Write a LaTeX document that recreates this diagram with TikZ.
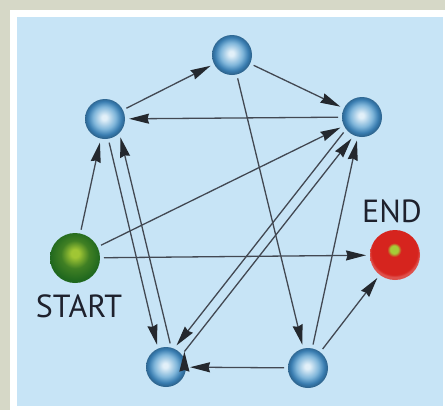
\documentclass[tikz,border=0pt]{standalone}
\usepackage{fontspec}
\setsansfont{PT Sans}
\usetikzlibrary{arrows.meta}

\definecolor{outerbg}{RGB}{214,216,199}
\definecolor{panel}{RGB}{199,228,246}
\definecolor{linkgray}{RGB}{66,72,82}
\definecolor{tipgray}{RGB}{36,40,46}
\definecolor{labeltext}{RGB}{30,33,45}
\definecolor{ballhi}{RGB}{226,240,249}
\definecolor{ballmid}{RGB}{128,182,218}
\definecolor{ballrim}{RGB}{56,124,176}
\definecolor{greenhi}{RGB}{160,198,52}
\definecolor{greenlo}{RGB}{32,104,30}
\definecolor{redball}{RGB}{214,36,30}
\definecolor{redspot}{RGB}{165,205,55}

\pgfdeclareradialshading{bluesphere}{\pgfpoint{-1bp}{2bp}}{%
  color(0bp)=(ballhi); color(3bp)=(ballhi); color(14bp)=(ballmid);
  color(21bp)=(ballrim); color(25bp)=(ballrim!80!black); color(50bp)=(ballrim!80!black)}
\pgfdeclareradialshading{greensphere}{\pgfpoint{0bp}{5bp}}{%
  color(0bp)=(greenhi); color(4bp)=(greenhi); color(14bp)=(greenlo!75!greenhi);
  color(25bp)=(greenlo); color(50bp)=(greenlo)}
\pgfdeclareradialshading{redsphere}{\pgfpoint{-1bp}{6bp}}{%
  color(0bp)=(redspot); color(4bp)=(redspot); color(7bp)=(redball);
  color(23bp)=(redball); color(25bp)=(redball!80!white); color(50bp)=(redball!80!white)}

\begin{document}
\begin{tikzpicture}[x=1pt,y=-1pt,
    ball/.style={circle,minimum size=40pt,inner sep=0pt,outer sep=4pt,shade,shading=bluesphere},
    term/.style={circle,minimum size=50pt,inner sep=0pt,outer sep=4pt,shade},
    lbl/.style={font=\sffamily\fontsize{32}{32}\selectfont,text=labeltext,inner sep=0pt},
    link/.style={-{Stealth[length=20pt,width=10pt,inset=1.5pt,color=tipgray]},line width=1.3pt,draw=linkgray}]
  \useasboundingbox (0,0) rectangle (445,410);
  % frame and panel
  \fill[outerbg] (0,0) rectangle (445,410);
  \fill[white] (10,10) rectangle (445,410);
  \fill[panel] (17,17) rectangle (443,406);

  % states
  \node[ball] (top) at (232,55) {};
  \node[ball] (upleft) at (105,119) {};
  \node[ball] (upright) at (362,117) {};
  \node[ball] (lowleft) at (166,367) {};
  \node[ball] (lowright) at (308,368) {};
  \node[term,shading=greensphere] (start) at (75,258) {};
  \node[term,shading=redsphere] (end) at (395,255) {};
  \node[lbl] (startlabel) at (79,306) {START};
  \node[lbl] (endlabel) at (392,211) {END};

  % transitions
  \path[link]
    (upleft) edge (top)
    (top) edge (upright)
    (upright) edge (upleft)
    (start) edge (upleft) edge (upright) edge (end)
    (upleft.-80) edge (lowleft.112)
    (lowleft.80) edge (upleft.-50)
    (upright.220) edge (lowleft.64)
    (lowleft.40) edge (upright.244)
    (top) edge (lowright)
    (lowright) edge (upright) edge (end) edge (lowleft);
\end{tikzpicture}
\end{document}
